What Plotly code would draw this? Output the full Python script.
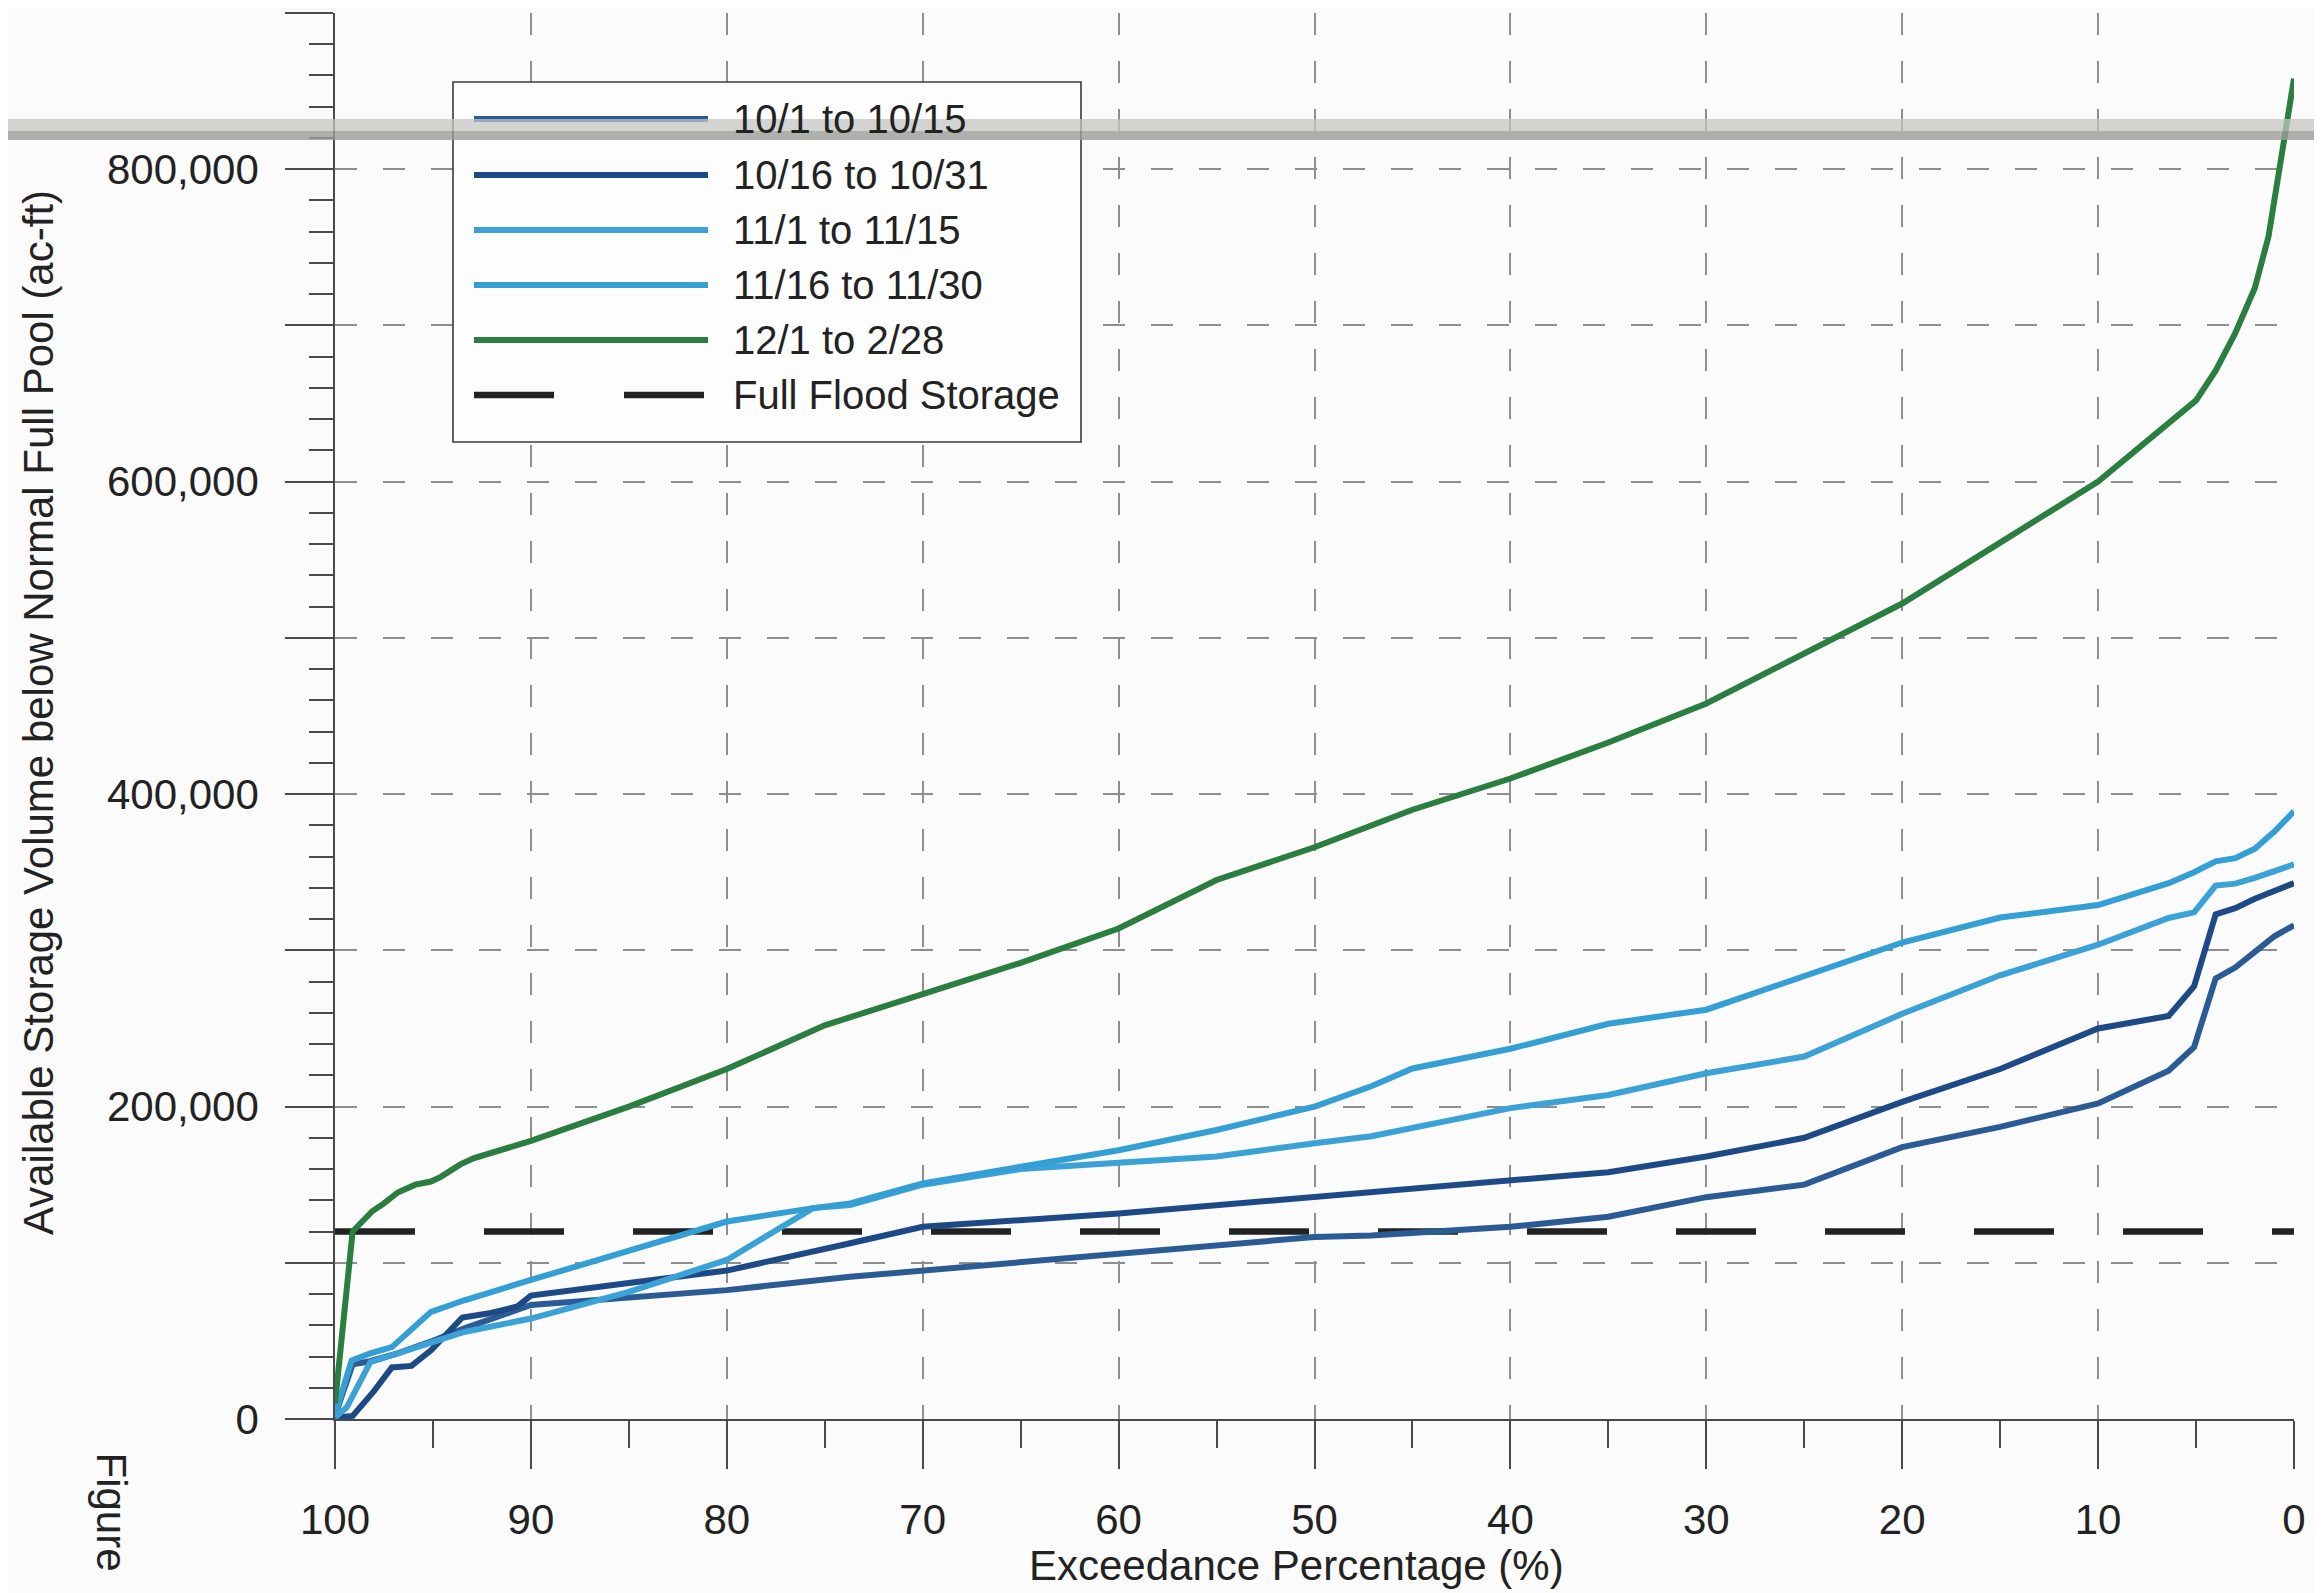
import plotly.graph_objects as go

# ---------------- data (exceedance %, available storage ac-ft) ----------------
pct_1001 = [100, 99.1, 98.2, 96.8, 95, 93.4, 90, 85, 80, 73.7, 70, 60, 55, 50, 47.1, 40, 35, 30, 25, 20, 15, 10, 6.4, 5.1, 4, 3, 2, 1, 0]
vol_1001 = [2000, 35000, 37000, 42000, 50000, 58000, 73000, 78000, 82500, 91000, 95000, 106000, 111000, 116500, 117500, 123000, 129500, 142000, 150000, 174000, 187000, 202000, 223000, 238000, 282000, 289000, 299000, 309000, 316000]

pct_1016 = [100, 99.1, 98.0, 97.1, 96.1, 95.1, 93.5, 92.2, 90.7, 90, 85, 80, 73.7, 70, 60, 50, 47.1, 40, 35, 30, 25, 20, 15, 10, 6.4, 5.1, 4, 3, 2, 0]
vol_1016 = [1000, 2000, 18000, 33000, 34000, 44000, 65000, 67500, 72000, 79000, 87000, 95000, 112500, 123000, 131600, 142000, 145000, 153000, 158000, 168000, 180000, 203000, 224000, 250000, 258000, 277000, 323000, 327000, 333000, 343000]

pct_1101 = [100, 99.4, 98.2, 96.8, 95.1, 93.4, 90, 85, 80, 75.6, 73.7, 70, 65, 62.6, 60, 55, 50, 47.1, 40, 35, 30, 25, 20, 15, 10, 6.4, 5.1, 4, 3, 2, 0]
vol_1101 = [1000, 7500, 36400, 41800, 49300, 55700, 64300, 81400, 101800, 135000, 137000, 150000, 160000, 162000, 164000, 168000, 176500, 181000, 199000, 207400, 221300, 232000, 259400, 284000, 303600, 320700, 324300, 341500, 342700, 346400, 355000]

pct_1116 = [100, 99.15, 98.2, 97.1, 95.1, 93.4, 90, 85, 80, 75.6, 73.7, 70, 65, 60, 55, 50, 47.1, 45, 40, 35, 30, 25, 20, 15, 10, 6.4, 5.1, 4, 3, 2, 1, 0]
vol_1116 = [3000, 37500, 42000, 46000, 68600, 76000, 89000, 108000, 126400, 135000, 138000, 150800, 161500, 172000, 185000, 200000, 213000, 224400, 237000, 253000, 262000, 284000, 305000, 321000, 329000, 343000, 350000, 357000, 359000, 365000, 376000, 389000]

pct_1201 = [100, 99.1, 98.1, 97.5, 96.8, 95.9, 95.1, 94.6, 93.6, 92.9, 90, 85, 80, 75, 70, 65, 60, 55, 50, 45, 40, 35, 30, 25, 20, 15, 10, 5, 4, 3, 2, 1.3, 0]
vol_1201 = [10000, 120000, 133000, 138000, 145000, 150000, 152000, 155000, 163000, 167000, 178000, 200000, 224000, 252000, 272000, 292000, 314000, 345000, 366000, 390000, 410000, 433000, 458000, 490000, 522000, 561000, 600000, 652000, 671000, 695000, 724000, 757000, 858000]

pct_flood = [100, 0]
vol_flood = [120000, 120000]

series_names = ["10/1 to 10/15", "10/16 to 10/31", "11/1 to 11/15", "11/16 to 11/30", "12/1 to 2/28", "Full Flood Storage"]
series_colors = ["#2b5b95", "#1d4a86", "#3ba2d8", "#349fd5", "#2a7e3f", "#222222"]

x_ticks = list(range(0, 101, 10))
y_ticks = list(range(0, 900001, 100000))
y_ticktext = ["{:,}".format(v) if v % 200000 == 0 else "" for v in y_ticks]

# ---------------- geometry ----------------
# page has an 8px body margin; plot-area targets are in window pixels
OFF = 8
WIN_W, WIN_H = 2322, 1593
W, H = WIN_W - OFF, WIN_H - OFF
PL, PR, PT, PB = 335, 2294, 13, 1419          # plot area in window pixels
L, R = PL - OFF, W - (PR - OFF)
T, B = PT - OFF, H - (PB - OFF)
FONT = "Liberation Sans, Arial, Helvetica, sans-serif"
TXT = "#222222"
GRID = "#8e8e8e"
AX = "#4a4a4a"


def px(X):
    return (X - PL) / (PR - PL)


def py(Y):
    return (PB - Y) / (PB - PT)


fig = go.Figure()

# flood storage first (drawn underneath)
fig.add_trace(go.Scatter(x=pct_flood, y=vol_flood, mode="lines", name=series_names[5],
                         line=dict(color=series_colors[5], width=6.5, dash="80px,69px"),
                         showlegend=False))
data = [(pct_1001, vol_1001), (pct_1016, vol_1016), (pct_1101, vol_1101), (pct_1116, vol_1116), (pct_1201, vol_1201)]
for (xs, ys), nm, col in zip(data, series_names[:5], series_colors[:5]):
    fig.add_trace(go.Scatter(x=xs, y=ys, mode="lines", name=nm,
                             line=dict(color=col, width=6), showlegend=False))

fig.update_layout(
    width=W, height=H,
    margin=dict(l=L, r=R, t=T, b=B),
    paper_bgcolor="#fbfbfb", plot_bgcolor="#fbfbfb",
    font=dict(family=FONT, size=42, color=TXT),
    xaxis=dict(range=[100, 0], tickmode="array", tickvals=x_ticks,
               ticks="outside", ticklen=48, tickwidth=1.6, tickcolor=AX,
               showline=True, linecolor=AX, linewidth=1.6,
               showgrid=True, gridcolor=GRID, gridwidth=1.5, griddash="22px,26px",
               zeroline=False, tickfont=dict(size=42, color=TXT, family=FONT),
               ticklabelstandoff=15,
               minor=dict(dtick=5, ticks="outside", ticklen=27, tickwidth=1.6,
                          tickcolor=AX, showgrid=False)),
    yaxis=dict(range=[0, 900000], tickmode="array", tickvals=y_ticks, ticktext=y_ticktext,
               ticks="outside", ticklen=48, tickwidth=1.6, tickcolor=AX,
               showline=True, linecolor=AX, linewidth=1.6,
               showgrid=True, gridcolor=GRID, gridwidth=1.5, griddash="22px,26px",
               zeroline=False, tickfont=dict(size=42, color=TXT, family=FONT),
               ticklabelstandoff=18,
               minor=dict(dtick=20000, ticks="outside", ticklen=24, tickwidth=1.6,
                          tickcolor=AX, showgrid=False)),
    xaxis2=dict(overlaying="x", anchor="y", side="bottom", range=[100, 0],
                tickmode="array", tickvals=x_ticks, ticks="inside", ticklen=15,
                tickwidth=1.6, tickcolor=AX, showticklabels=False, showgrid=False,
                showline=False, zeroline=False),
    yaxis2=dict(overlaying="y", anchor="x", side="left", range=[0, 900000],
                tickmode="array", tickvals=y_ticks, ticks="inside", ticklen=11,
                tickwidth=1.6, tickcolor=AX, showticklabels=False, showgrid=False,
                showline=False, zeroline=False),
    showlegend=False,
)

# ---------------- manual legend ----------------
shapes = []
annotations = []
shapes.append(dict(type="rect", xref="paper", yref="paper",
                   x0=px(453), x1=px(1081), y0=py(442), y1=py(82),
                   line=dict(color="#3a3a3a", width=1.6), fillcolor="#fdfdfd", layer="above"))
rows = [119, 175, 230, 285, 340, 395]
for i, (nm, col) in enumerate(zip(series_names, series_colors)):
    ln = dict(color=col, width=6.5 if i == 5 else 6)
    if i == 5:
        ln["dash"] = "80px,70px"
    shapes.append(dict(type="line", xref="paper", yref="paper",
                       x0=px(474), x1=px(708), y0=py(rows[i]), y1=py(rows[i]),
                       line=ln, layer="above"))
    annotations.append(dict(text=nm, xref="paper", yref="paper", x=px(731), y=py(rows[i]),
                            xanchor="left", yanchor="middle", showarrow=False,
                            font=dict(size=40, color=TXT, family=FONT)))

# axis titles
annotations.append(dict(text="Available Storage Volume below Normal Full Pool (ac-ft)",
                        xref="paper", yref="paper", x=px(38), y=py(713),
                        xanchor="center", yanchor="middle", textangle=-90, showarrow=False,
                        font=dict(size=42, color=TXT, family=FONT)))
annotations.append(dict(text="Exceedance Percentage (%)", xref="paper", yref="paper",
                        x=px(1296), y=py(1565), xanchor="center", yanchor="middle",
                        showarrow=False, font=dict(size=42, color=TXT, family=FONT)))
annotations.append(dict(text="Figure", xref="paper", yref="paper", x=px(111), y=py(1450),
                        xanchor="center", yanchor="top", textangle=90, showarrow=False,
                        font=dict(size=42, color=TXT, family=FONT)))

# scanner streak across page
shapes.append(dict(type="rect", xref="paper", yref="paper", x0=px(OFF), x1=px(WIN_W),
                   y0=py(131), y1=py(119), line=dict(width=0), fillcolor="#c4c6c2",
                   opacity=0.75, layer="above"))
shapes.append(dict(type="rect", xref="paper", yref="paper", x0=px(OFF), x1=px(WIN_W),
                   y0=py(140), y1=py(131), line=dict(width=0), fillcolor="#9a9c97",
                   opacity=0.8, layer="above"))

fig.update_layout(shapes=shapes, annotations=annotations)
fig.write_html("out.html")
